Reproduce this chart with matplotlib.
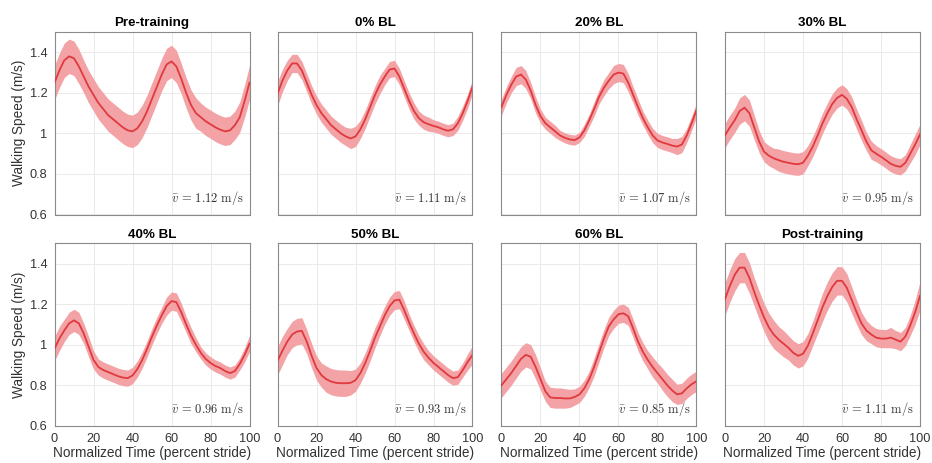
import numpy as np
import matplotlib
matplotlib.use('Agg')
import matplotlib.pyplot as plt

plt.rcParams['font.family'] = ['Liberation Sans', 'DejaVu Sans']
plt.rcParams['mathtext.fontset'] = 'cm'

# percent stride, every 2.5 %
stride = np.arange(0, 100.1, 2.5)

titles = ['Pre-training', '0% BL', '20% BL', '30% BL',
          '40% BL', '50% BL', '60% BL', 'Post-training']
mean_speed = ['1.12', '1.11', '1.07', '0.95', '0.96', '0.93', '0.85', '1.11']

# mean walking speed curves (m/s)
pre_mean = [1.25, 1.31, 1.36, 1.38, 1.37, 1.33, 1.28, 1.23, 1.19, 1.15, 1.12, 1.09, 1.07, 1.05,
            1.03, 1.015, 1.01, 1.025, 1.06, 1.11, 1.17, 1.23, 1.29, 1.34, 1.355, 1.33, 1.27,
            1.20, 1.14, 1.10, 1.08, 1.06, 1.045, 1.03, 1.018, 1.01, 1.015, 1.04, 1.08, 1.16, 1.25]
bl0_mean = [1.195, 1.26, 1.31, 1.345, 1.345, 1.31, 1.25, 1.19, 1.14, 1.10, 1.07, 1.04, 1.02, 1.0,
            0.985, 0.975, 0.985, 1.02, 1.07, 1.13, 1.19, 1.24, 1.28, 1.315, 1.32, 1.28, 1.22,
            1.16, 1.11, 1.075, 1.055, 1.045, 1.037, 1.03, 1.02, 1.013, 1.02, 1.05, 1.10, 1.16, 1.23]
bl20_mean = [1.13, 1.19, 1.24, 1.28, 1.29, 1.265, 1.21, 1.14, 1.085, 1.05, 1.03, 1.01, 0.99, 0.978,
             0.97, 0.967, 0.98, 1.015, 1.065, 1.12, 1.18, 1.225, 1.26, 1.29, 1.30, 1.295, 1.25,
             1.19, 1.13, 1.075, 1.03, 0.99, 0.965, 0.955, 0.948, 0.94, 0.935, 0.945, 0.99, 1.05, 1.115]
bl30_mean = [0.99, 1.03, 1.065, 1.11, 1.127, 1.10, 1.03, 0.96, 0.91, 0.89, 0.877, 0.868, 0.86, 0.855,
             0.85, 0.848, 0.855, 0.89, 0.935, 0.99, 1.05, 1.10, 1.145, 1.175, 1.19, 1.17, 1.13,
             1.07, 1.015, 0.96, 0.917, 0.90, 0.885, 0.868, 0.85, 0.84, 0.835, 0.855, 0.90, 0.945, 0.995]
bl40_mean = [0.98, 1.03, 1.07, 1.105, 1.12, 1.105, 1.055, 0.99, 0.925, 0.89, 0.875, 0.865, 0.855, 0.845,
             0.838, 0.835, 0.848, 0.88, 0.925, 0.98, 1.04, 1.095, 1.145, 1.19, 1.215, 1.21, 1.16,
             1.10, 1.045, 1.0, 0.96, 0.93, 0.91, 0.895, 0.885, 0.87, 0.86, 0.87, 0.905, 0.95, 1.005]
bl50_mean = [0.92, 0.97, 1.015, 1.05, 1.065, 1.068, 1.015, 0.945, 0.885, 0.85, 0.83, 0.818, 0.812, 0.81,
             0.81, 0.812, 0.825, 0.86, 0.91, 0.97, 1.035, 1.09, 1.145, 1.19, 1.218, 1.222, 1.17,
             1.11, 1.055, 1.005, 0.965, 0.935, 0.91, 0.89, 0.87, 0.85, 0.835, 0.84, 0.875, 0.915, 0.95]
bl60_mean = [0.80, 0.83, 0.86, 0.895, 0.93, 0.95, 0.94, 0.89, 0.83, 0.77, 0.74, 0.737, 0.737, 0.735,
             0.735, 0.742, 0.755, 0.785, 0.83, 0.89, 0.96, 1.03, 1.09, 1.125, 1.15, 1.155, 1.14,
             1.08, 1.015, 0.965, 0.925, 0.89, 0.86, 0.83, 0.80, 0.775, 0.755, 0.76, 0.785, 0.805, 0.82]
post_mean = [1.225, 1.29, 1.345, 1.38, 1.38, 1.33, 1.26, 1.195, 1.135, 1.085, 1.05, 1.025, 1.005, 0.985,
             0.96, 0.945, 0.955, 0.995, 1.055, 1.12, 1.185, 1.24, 1.285, 1.315, 1.315, 1.28, 1.22,
             1.16, 1.105, 1.07, 1.05, 1.035, 1.03, 1.03, 1.035, 1.025, 1.015, 1.04, 1.095, 1.16, 1.24]

# half-width of the shaded band (m/s)
pre_sd = [0.085, 0.085, 0.085, 0.085, 0.085, 0.085, 0.08, 0.08, 0.08, 0.08, 0.08, 0.08, 0.08, 0.08,
          0.08, 0.08, 0.08, 0.08, 0.08, 0.08, 0.08, 0.08, 0.08, 0.08, 0.08, 0.08, 0.075,
          0.075, 0.075, 0.075, 0.07, 0.07, 0.07, 0.07, 0.07, 0.07, 0.07, 0.07, 0.075, 0.08, 0.085]
bl0_sd = [0.06, 0.055, 0.05, 0.045, 0.045, 0.045, 0.045, 0.045, 0.045, 0.045, 0.045, 0.045, 0.045, 0.045,
          0.045, 0.05, 0.05, 0.045, 0.045, 0.045, 0.045, 0.045, 0.04, 0.04, 0.04, 0.04, 0.04,
          0.04, 0.04, 0.035, 0.035, 0.035, 0.03, 0.03, 0.03, 0.03, 0.03, 0.035, 0.035, 0.035, 0.035]
bl20_sd = [0.04, 0.04, 0.04, 0.045, 0.045, 0.045, 0.04, 0.04, 0.035, 0.03, 0.03, 0.03, 0.025, 0.025,
           0.025, 0.025, 0.025, 0.03, 0.03, 0.035, 0.035, 0.04, 0.04, 0.045, 0.045, 0.045, 0.045,
           0.04, 0.04, 0.035, 0.035, 0.035, 0.035, 0.035, 0.035, 0.035, 0.04, 0.04, 0.035, 0.035, 0.035]
bl30_sd = [0.06, 0.06, 0.06, 0.065, 0.065, 0.065, 0.06, 0.055, 0.05, 0.05, 0.05, 0.055, 0.055, 0.055,
           0.055, 0.055, 0.055, 0.05, 0.05, 0.05, 0.05, 0.05, 0.05, 0.05, 0.05, 0.05, 0.05,
           0.05, 0.05, 0.045, 0.045, 0.04, 0.04, 0.04, 0.04, 0.04, 0.04, 0.04, 0.045, 0.05, 0.05]
bl40_sd = [0.06, 0.06, 0.055, 0.055, 0.055, 0.055, 0.05, 0.05, 0.045, 0.04, 0.04, 0.04, 0.04, 0.04,
           0.04, 0.04, 0.04, 0.04, 0.04, 0.04, 0.04, 0.04, 0.04, 0.045, 0.045, 0.045, 0.045,
           0.04, 0.04, 0.035, 0.03, 0.03, 0.03, 0.03, 0.03, 0.03, 0.03, 0.03, 0.03, 0.035, 0.04]
bl50_sd = [0.07, 0.07, 0.065, 0.065, 0.065, 0.065, 0.06, 0.06, 0.06, 0.06, 0.065, 0.065, 0.065, 0.065,
           0.065, 0.06, 0.055, 0.05, 0.05, 0.05, 0.05, 0.045, 0.045, 0.045, 0.045, 0.045, 0.045,
           0.04, 0.04, 0.04, 0.04, 0.035, 0.035, 0.035, 0.035, 0.035, 0.035, 0.035, 0.035, 0.04, 0.045]
bl60_sd = [0.06, 0.06, 0.06, 0.06, 0.06, 0.06, 0.06, 0.06, 0.055, 0.05, 0.05, 0.05, 0.05, 0.048,
           0.045, 0.04, 0.04, 0.04, 0.04, 0.045, 0.045, 0.045, 0.045, 0.045, 0.045, 0.045, 0.045,
           0.045, 0.045, 0.045, 0.045, 0.05, 0.05, 0.055, 0.055, 0.055, 0.05, 0.05, 0.05, 0.05, 0.05]
post_sd = [0.08, 0.08, 0.08, 0.075, 0.075, 0.075, 0.07, 0.07, 0.07, 0.07, 0.07, 0.065, 0.065, 0.06,
           0.06, 0.06, 0.06, 0.06, 0.06, 0.065, 0.07, 0.07, 0.07, 0.07, 0.07, 0.07, 0.065,
           0.06, 0.055, 0.05, 0.045, 0.045, 0.045, 0.045, 0.05, 0.045, 0.045, 0.045, 0.05, 0.06, 0.07]

means = [pre_mean, bl0_mean, bl20_mean, bl30_mean, bl40_mean, bl50_mean, bl60_mean, post_mean]
sds = [pre_sd, bl0_sd, bl20_sd, bl30_sd, bl40_sd, bl50_sd, bl60_sd, post_sd]

line_color = '#E0393E'
band_color = '#F3A3A6'
txt = '#333333'

fig = plt.figure(figsize=(9.32, 4.63), dpi=100)
W, H = 932, 463
lefts = [54.5, 277.5, 501.5, 725]
tops = [32, 243.3]
aw, ah = 195, 182.5

for i in range(8):
    r, c = divmod(i, 4)
    ax = fig.add_axes([lefts[c] / W, (H - tops[r] - ah) / H, aw / W, ah / H])
    m = np.array(means[i])
    s = np.array(sds[i])
    ax.fill_between(stride, m - s, m + s, color=band_color, lw=0, zorder=2)
    ax.plot(stride, m, color=line_color, lw=1.3, zorder=3)

    ax.set_xlim(0, 100)
    ax.set_ylim(0.6, 1.5)
    ax.set_xticks(np.arange(0, 101, 20))
    ax.set_yticks([0.6, 0.8, 1.0, 1.2, 1.4])
    ax.set_yticklabels(['0.6', '0.8', '1', '1.2', '1.4'])
    ax.grid(True, color='#EAEAEA', lw=0.7, zorder=0)
    ax.set_axisbelow(True)
    for sp in ax.spines.values():
        sp.set_color('#8A8A8A')
        sp.set_linewidth(0.8)
    ax.tick_params(direction='in', length=0, pad=5,
                   labelsize=9.2, labelcolor=txt)
    ax.set_title(titles[i], fontsize=9.6, fontweight='bold', pad=4)

    if r == 0:
        ax.tick_params(labelbottom=False)
    else:
        ax.set_xlabel('Normalized Time (percent stride)', fontsize=9.8, color=txt, labelpad=1)
    if c == 0:
        ax.set_ylabel('Walking Speed (m/s)', fontsize=9.8, color=txt, labelpad=3)
    else:
        ax.tick_params(labelleft=False)

    ax.text(0.97, 0.04, r'$\bar{v}\,=\,' + mean_speed[i] + r'\ \mathrm{m/s}$',
            transform=ax.transAxes, ha='right', va='bottom', fontsize=9, color=txt, zorder=4)

fig.savefig('out.png', dpi=100)
